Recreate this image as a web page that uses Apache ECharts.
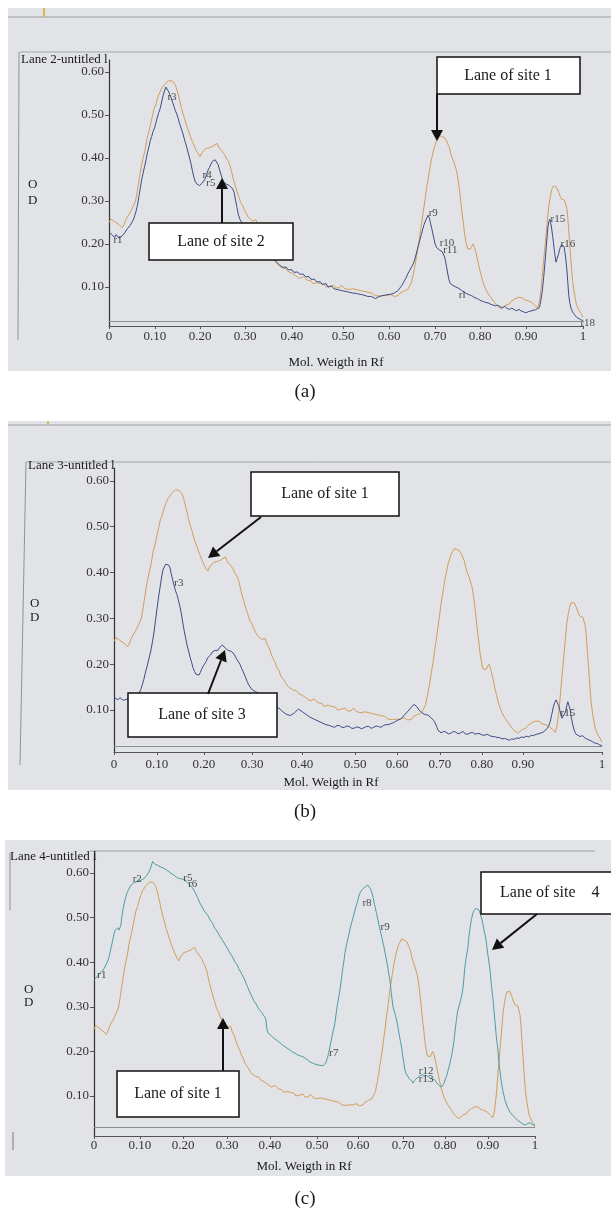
<!DOCTYPE html>
<html>
<head>
<meta charset="utf-8">
<script src="https://cdn.jsdelivr.net/npm/echarts@6/dist/echarts.min.js"></script>
<style>html,body{margin:0;padding:0;background:#fff}#c{width:611px;height:1210px}</style>
</head>
<body>
<div id="c"></div>
<script>
// ---------------- data ----------------
// Lane of site 1 (orange, drawn in all three panels) : [Rf, OD]
const site1 = [[0.000,0.250],[0.004,0.258],[0.008,0.262],[0.012,0.252],[0.016,0.256],[0.020,0.246],[0.024,0.243],[0.028,0.238],[0.032,0.246],[0.036,0.258],[0.040,0.262],[0.044,0.272],[0.048,0.268],[0.052,0.290],[0.056,0.300],[0.060,0.325],[0.065,0.360],[0.069,0.385],[0.072,0.400],[0.076,0.418],[0.080,0.445],[0.084,0.460],[0.088,0.480],[0.092,0.500],[0.095,0.515],[0.099,0.525],[0.102,0.538],[0.106,0.550],[0.110,0.560],[0.114,0.566],[0.118,0.572],[0.122,0.576],[0.126,0.580],[0.130,0.578],[0.134,0.579],[0.137,0.575],[0.140,0.570],[0.143,0.560],[0.146,0.548],[0.150,0.530],[0.153,0.515],[0.157,0.500],[0.160,0.490],[0.164,0.474],[0.168,0.462],[0.172,0.450],[0.176,0.438],[0.180,0.428],[0.184,0.418],[0.188,0.410],[0.192,0.403],[0.196,0.412],[0.200,0.414],[0.204,0.422],[0.208,0.418],[0.212,0.424],[0.216,0.420],[0.220,0.428],[0.224,0.430],[0.228,0.434],[0.232,0.424],[0.236,0.426],[0.240,0.414],[0.244,0.408],[0.248,0.398],[0.252,0.392],[0.256,0.380],[0.259,0.366],[0.262,0.352],[0.266,0.338],[0.270,0.322],[0.274,0.310],[0.278,0.296],[0.282,0.290],[0.286,0.278],[0.290,0.276],[0.294,0.262],[0.298,0.266],[0.302,0.254],[0.306,0.250],[0.310,0.256],[0.314,0.242],[0.318,0.236],[0.322,0.222],[0.326,0.212],[0.330,0.204],[0.334,0.192],[0.338,0.186],[0.342,0.174],[0.346,0.168],[0.350,0.162],[0.354,0.155],[0.358,0.150],[0.362,0.152],[0.366,0.144],[0.370,0.140],[0.374,0.142],[0.378,0.136],[0.382,0.138],[0.386,0.132],[0.390,0.130],[0.394,0.126],[0.398,0.128],[0.402,0.120],[0.406,0.118],[0.410,0.124],[0.414,0.120],[0.418,0.116],[0.422,0.112],[0.426,0.114],[0.430,0.108],[0.434,0.106],[0.438,0.110],[0.442,0.114],[0.446,0.108],[0.450,0.104],[0.454,0.106],[0.458,0.100],[0.462,0.098],[0.466,0.102],[0.470,0.100],[0.474,0.104],[0.478,0.098],[0.482,0.094],[0.486,0.098],[0.490,0.104],[0.494,0.100],[0.498,0.096],[0.502,0.100],[0.506,0.094],[0.510,0.098],[0.514,0.096],[0.518,0.100],[0.522,0.094],[0.526,0.090],[0.530,0.092],[0.534,0.088],[0.538,0.090],[0.542,0.086],[0.546,0.088],[0.550,0.084],[0.554,0.086],[0.558,0.082],[0.562,0.080],[0.566,0.083],[0.570,0.079],[0.574,0.082],[0.578,0.080],[0.582,0.077],[0.586,0.080],[0.590,0.078],[0.594,0.083],[0.598,0.080],[0.602,0.078],[0.606,0.082],[0.610,0.080],[0.614,0.086],[0.618,0.084],[0.622,0.090],[0.626,0.088],[0.630,0.094],[0.634,0.098],[0.638,0.110],[0.642,0.130],[0.646,0.152],[0.650,0.180],[0.654,0.205],[0.657,0.230],[0.660,0.250],[0.663,0.275],[0.667,0.305],[0.670,0.330],[0.673,0.350],[0.676,0.370],[0.679,0.390],[0.682,0.405],[0.685,0.420],[0.688,0.430],[0.691,0.440],[0.694,0.445],[0.697,0.452],[0.700,0.455],[0.703,0.450],[0.706,0.452],[0.709,0.446],[0.712,0.440],[0.715,0.432],[0.718,0.425],[0.721,0.410],[0.724,0.400],[0.727,0.392],[0.730,0.390],[0.733,0.372],[0.735,0.360],[0.738,0.338],[0.740,0.320],[0.743,0.290],[0.745,0.270],[0.748,0.245],[0.750,0.225],[0.753,0.205],[0.756,0.190],[0.759,0.186],[0.762,0.188],[0.765,0.194],[0.768,0.200],[0.771,0.192],[0.774,0.180],[0.777,0.166],[0.780,0.150],[0.784,0.132],[0.788,0.115],[0.792,0.102],[0.796,0.092],[0.800,0.084],[0.804,0.078],[0.808,0.072],[0.812,0.066],[0.816,0.060],[0.820,0.055],[0.824,0.052],[0.828,0.049],[0.832,0.053],[0.836,0.057],[0.840,0.061],[0.844,0.060],[0.848,0.066],[0.852,0.068],[0.856,0.072],[0.860,0.070],[0.864,0.076],[0.868,0.072],[0.872,0.075],[0.876,0.070],[0.880,0.074],[0.884,0.068],[0.888,0.070],[0.892,0.064],[0.896,0.060],[0.900,0.056],[0.904,0.051],[0.908,0.066],[0.912,0.100],[0.916,0.150],[0.919,0.185],[0.922,0.220],[0.925,0.256],[0.928,0.290],[0.931,0.310],[0.934,0.326],[0.937,0.334],[0.940,0.337],[0.943,0.334],[0.946,0.330],[0.949,0.320],[0.952,0.310],[0.955,0.304],[0.958,0.300],[0.961,0.302],[0.964,0.298],[0.966,0.282],[0.968,0.260],[0.970,0.230],[0.972,0.200],[0.974,0.170],[0.976,0.140],[0.978,0.115],[0.981,0.090],[0.984,0.072],[0.986,0.060],[0.989,0.052],[0.992,0.045],[0.996,0.038],[1.000,0.030]];

// Lane of site 2 (panel a, blue)
const site2 = [[0.000,0.228],[0.004,0.224],[0.006,0.222],[0.009,0.218],[0.012,0.215],[0.015,0.222],[0.018,0.220],[0.021,0.214],[0.024,0.212],[0.027,0.218],[0.030,0.222],[0.033,0.226],[0.036,0.228],[0.039,0.236],[0.042,0.240],[0.045,0.244],[0.048,0.250],[0.051,0.256],[0.054,0.265],[0.057,0.276],[0.060,0.290],[0.063,0.310],[0.066,0.330],[0.069,0.350],[0.072,0.365],[0.075,0.380],[0.078,0.395],[0.081,0.412],[0.084,0.425],[0.087,0.440],[0.090,0.450],[0.093,0.462],[0.096,0.470],[0.099,0.482],[0.102,0.495],[0.105,0.506],[0.108,0.515],[0.111,0.530],[0.114,0.545],[0.117,0.556],[0.120,0.565],[0.122,0.566],[0.124,0.562],[0.126,0.554],[0.128,0.548],[0.131,0.540],[0.134,0.530],[0.137,0.520],[0.140,0.510],[0.143,0.502],[0.146,0.492],[0.149,0.480],[0.152,0.470],[0.155,0.460],[0.158,0.448],[0.161,0.436],[0.164,0.425],[0.167,0.412],[0.170,0.400],[0.173,0.386],[0.176,0.370],[0.179,0.356],[0.182,0.345],[0.185,0.340],[0.188,0.342],[0.191,0.336],[0.194,0.338],[0.197,0.342],[0.200,0.345],[0.203,0.352],[0.206,0.362],[0.209,0.372],[0.212,0.378],[0.215,0.386],[0.218,0.392],[0.221,0.395],[0.224,0.396],[0.227,0.392],[0.230,0.385],[0.233,0.374],[0.236,0.362],[0.239,0.352],[0.242,0.345],[0.246,0.340],[0.250,0.338],[0.254,0.336],[0.258,0.332],[0.261,0.328],[0.264,0.320],[0.267,0.302],[0.270,0.285],[0.273,0.268],[0.276,0.258],[0.279,0.252],[0.282,0.248],[0.286,0.244],[0.290,0.240],[0.294,0.236],[0.298,0.232],[0.302,0.228],[0.306,0.222],[0.310,0.216],[0.314,0.210],[0.318,0.202],[0.322,0.196],[0.326,0.192],[0.330,0.185],[0.334,0.182],[0.338,0.175],[0.342,0.170],[0.346,0.165],[0.350,0.162],[0.354,0.158],[0.358,0.153],[0.362,0.150],[0.366,0.146],[0.370,0.143],[0.374,0.146],[0.378,0.140],[0.382,0.138],[0.386,0.140],[0.390,0.134],[0.394,0.132],[0.398,0.135],[0.402,0.130],[0.406,0.128],[0.410,0.130],[0.414,0.124],[0.418,0.122],[0.422,0.124],[0.426,0.118],[0.430,0.116],[0.434,0.118],[0.438,0.112],[0.442,0.110],[0.446,0.112],[0.450,0.106],[0.454,0.104],[0.458,0.108],[0.462,0.100],[0.466,0.098],[0.470,0.102],[0.474,0.096],[0.478,0.098],[0.482,0.094],[0.486,0.096],[0.490,0.092],[0.494,0.094],[0.498,0.090],[0.502,0.092],[0.506,0.088],[0.510,0.090],[0.514,0.086],[0.518,0.088],[0.522,0.085],[0.526,0.087],[0.530,0.083],[0.534,0.085],[0.538,0.081],[0.542,0.080],[0.546,0.078],[0.550,0.076],[0.554,0.078],[0.558,0.074],[0.562,0.073],[0.566,0.076],[0.570,0.078],[0.574,0.076],[0.578,0.080],[0.582,0.079],[0.586,0.082],[0.590,0.080],[0.594,0.083],[0.598,0.084],[0.602,0.086],[0.606,0.088],[0.610,0.092],[0.614,0.098],[0.618,0.104],[0.622,0.112],[0.626,0.120],[0.630,0.130],[0.634,0.138],[0.638,0.146],[0.642,0.154],[0.646,0.168],[0.650,0.185],[0.653,0.198],[0.656,0.210],[0.659,0.222],[0.662,0.235],[0.665,0.246],[0.668,0.255],[0.671,0.262],[0.673,0.267],[0.676,0.260],[0.678,0.250],[0.681,0.236],[0.683,0.225],[0.686,0.210],[0.688,0.200],[0.691,0.192],[0.694,0.188],[0.697,0.186],[0.700,0.185],[0.703,0.182],[0.706,0.180],[0.708,0.170],[0.710,0.160],[0.712,0.148],[0.714,0.135],[0.717,0.118],[0.720,0.108],[0.724,0.104],[0.728,0.102],[0.732,0.100],[0.736,0.098],[0.740,0.094],[0.744,0.092],[0.748,0.090],[0.752,0.086],[0.756,0.087],[0.760,0.082],[0.765,0.080],[0.770,0.076],[0.775,0.074],[0.780,0.071],[0.785,0.068],[0.790,0.066],[0.795,0.064],[0.800,0.063],[0.805,0.060],[0.810,0.058],[0.815,0.056],[0.820,0.058],[0.825,0.054],[0.830,0.052],[0.835,0.055],[0.840,0.050],[0.845,0.048],[0.850,0.051],[0.855,0.047],[0.860,0.045],[0.865,0.048],[0.870,0.044],[0.875,0.042],[0.880,0.040],[0.885,0.043],[0.890,0.044],[0.895,0.046],[0.900,0.047],[0.904,0.050],[0.908,0.052],[0.911,0.068],[0.914,0.090],[0.917,0.122],[0.920,0.160],[0.923,0.200],[0.926,0.240],[0.928,0.252],[0.930,0.258],[0.932,0.248],[0.934,0.235],[0.936,0.218],[0.938,0.200],[0.940,0.180],[0.943,0.158],[0.945,0.165],[0.948,0.175],[0.950,0.184],[0.952,0.192],[0.955,0.198],[0.958,0.202],[0.960,0.194],[0.962,0.180],[0.964,0.162],[0.966,0.140],[0.968,0.110],[0.970,0.080],[0.972,0.064],[0.975,0.050],[0.978,0.042],[0.982,0.036],[0.986,0.030],[0.990,0.026],[0.995,0.024],[1.000,0.022]];

// Lane of site 3 (panel b, blue)
const site3 = [[0.000,0.128],[0.004,0.125],[0.008,0.122],[0.012,0.127],[0.015,0.126],[0.019,0.121],[0.023,0.120],[0.027,0.124],[0.030,0.127],[0.034,0.123],[0.038,0.122],[0.042,0.127],[0.045,0.130],[0.049,0.133],[0.052,0.138],[0.055,0.145],[0.058,0.155],[0.061,0.166],[0.064,0.180],[0.067,0.192],[0.070,0.205],[0.073,0.218],[0.076,0.232],[0.079,0.250],[0.082,0.270],[0.085,0.295],[0.088,0.320],[0.091,0.344],[0.094,0.365],[0.097,0.386],[0.100,0.405],[0.103,0.412],[0.106,0.418],[0.108,0.421],[0.110,0.420],[0.112,0.416],[0.115,0.410],[0.117,0.398],[0.120,0.385],[0.123,0.372],[0.126,0.360],[0.129,0.352],[0.132,0.340],[0.135,0.326],[0.138,0.310],[0.141,0.290],[0.144,0.272],[0.147,0.256],[0.150,0.240],[0.153,0.228],[0.156,0.215],[0.159,0.204],[0.162,0.192],[0.165,0.184],[0.168,0.178],[0.171,0.174],[0.174,0.176],[0.177,0.182],[0.180,0.190],[0.183,0.196],[0.186,0.200],[0.189,0.206],[0.192,0.214],[0.195,0.218],[0.198,0.220],[0.201,0.226],[0.204,0.224],[0.207,0.230],[0.210,0.232],[0.213,0.230],[0.216,0.236],[0.219,0.238],[0.222,0.242],[0.225,0.240],[0.228,0.235],[0.231,0.232],[0.234,0.230],[0.237,0.232],[0.240,0.228],[0.243,0.226],[0.246,0.222],[0.249,0.216],[0.252,0.210],[0.255,0.206],[0.258,0.200],[0.261,0.192],[0.264,0.185],[0.267,0.178],[0.270,0.170],[0.273,0.162],[0.276,0.155],[0.279,0.150],[0.282,0.145],[0.286,0.142],[0.290,0.140],[0.294,0.142],[0.298,0.136],[0.302,0.132],[0.306,0.128],[0.310,0.124],[0.314,0.120],[0.318,0.116],[0.322,0.112],[0.326,0.110],[0.330,0.106],[0.334,0.108],[0.338,0.104],[0.342,0.100],[0.346,0.096],[0.350,0.094],[0.354,0.090],[0.358,0.086],[0.362,0.088],[0.366,0.090],[0.370,0.094],[0.374,0.098],[0.378,0.102],[0.382,0.098],[0.386,0.096],[0.390,0.092],[0.394,0.090],[0.398,0.086],[0.402,0.084],[0.406,0.086],[0.410,0.080],[0.414,0.078],[0.418,0.076],[0.422,0.078],[0.426,0.072],[0.430,0.070],[0.434,0.068],[0.438,0.070],[0.442,0.066],[0.447,0.064],[0.452,0.062],[0.457,0.066],[0.462,0.066],[0.467,0.062],[0.472,0.062],[0.477,0.065],[0.482,0.064],[0.487,0.060],[0.492,0.060],[0.497,0.063],[0.502,0.062],[0.507,0.059],[0.512,0.061],[0.517,0.064],[0.522,0.064],[0.527,0.060],[0.532,0.062],[0.537,0.065],[0.542,0.064],[0.547,0.062],[0.552,0.066],[0.557,0.068],[0.562,0.068],[0.567,0.070],[0.572,0.072],[0.577,0.075],[0.582,0.078],[0.587,0.080],[0.592,0.085],[0.596,0.090],[0.600,0.094],[0.603,0.098],[0.606,0.102],[0.609,0.106],[0.612,0.110],[0.615,0.112],[0.617,0.113],[0.620,0.108],[0.622,0.104],[0.625,0.100],[0.628,0.096],[0.631,0.094],[0.634,0.092],[0.637,0.090],[0.640,0.088],[0.643,0.089],[0.646,0.086],[0.649,0.084],[0.652,0.080],[0.655,0.077],[0.658,0.072],[0.661,0.064],[0.664,0.056],[0.667,0.052],[0.670,0.050],[0.675,0.053],[0.680,0.052],[0.685,0.048],[0.690,0.049],[0.695,0.053],[0.700,0.052],[0.705,0.048],[0.710,0.050],[0.715,0.053],[0.720,0.048],[0.725,0.047],[0.730,0.050],[0.735,0.051],[0.740,0.047],[0.745,0.049],[0.750,0.048],[0.755,0.045],[0.760,0.045],[0.765,0.047],[0.770,0.044],[0.775,0.042],[0.780,0.042],[0.785,0.040],[0.790,0.040],[0.795,0.037],[0.800,0.038],[0.805,0.036],[0.810,0.034],[0.815,0.037],[0.820,0.036],[0.825,0.039],[0.830,0.038],[0.835,0.041],[0.840,0.040],[0.845,0.043],[0.850,0.041],[0.855,0.045],[0.860,0.044],[0.865,0.047],[0.870,0.048],[0.875,0.050],[0.880,0.052],[0.884,0.055],[0.888,0.060],[0.891,0.066],[0.894,0.075],[0.897,0.090],[0.900,0.105],[0.903,0.116],[0.906,0.122],[0.909,0.118],[0.911,0.110],[0.914,0.098],[0.916,0.088],[0.918,0.082],[0.920,0.078],[0.922,0.084],[0.925,0.095],[0.928,0.110],[0.930,0.118],[0.932,0.114],[0.935,0.100],[0.937,0.084],[0.940,0.068],[0.943,0.056],[0.946,0.048],[0.950,0.045],[0.955,0.042],[0.960,0.044],[0.965,0.039],[0.970,0.036],[0.975,0.034],[0.980,0.031],[0.985,0.028],[0.990,0.027],[0.995,0.024],[1.000,0.022]];

// Lane of site 4 (panel c, teal)
const site4 = [[0.000,0.360],[0.004,0.364],[0.007,0.367],[0.010,0.372],[0.014,0.376],[0.017,0.378],[0.020,0.382],[0.023,0.386],[0.025,0.390],[0.028,0.396],[0.032,0.405],[0.035,0.415],[0.037,0.425],[0.039,0.434],[0.041,0.443],[0.043,0.452],[0.045,0.462],[0.048,0.472],[0.051,0.476],[0.054,0.477],[0.057,0.472],[0.059,0.470],[0.061,0.484],[0.063,0.501],[0.066,0.520],[0.070,0.539],[0.073,0.550],[0.076,0.558],[0.079,0.564],[0.082,0.569],[0.085,0.574],[0.088,0.578],[0.092,0.579],[0.096,0.580],[0.100,0.582],[0.104,0.580],[0.107,0.584],[0.110,0.585],[0.113,0.587],[0.116,0.589],[0.119,0.594],[0.122,0.598],[0.125,0.603],[0.127,0.607],[0.129,0.614],[0.131,0.620],[0.133,0.626],[0.134,0.627],[0.136,0.624],[0.138,0.620],[0.140,0.621],[0.143,0.618],[0.146,0.616],[0.150,0.614],[0.154,0.612],[0.158,0.611],[0.162,0.608],[0.166,0.606],[0.170,0.603],[0.174,0.600],[0.178,0.597],[0.182,0.595],[0.186,0.591],[0.190,0.589],[0.194,0.590],[0.198,0.587],[0.202,0.586],[0.206,0.585],[0.209,0.581],[0.212,0.578],[0.215,0.576],[0.218,0.573],[0.221,0.570],[0.224,0.566],[0.227,0.562],[0.229,0.557],[0.232,0.551],[0.235,0.545],[0.238,0.538],[0.240,0.533],[0.245,0.524],[0.250,0.515],[0.256,0.508],[0.260,0.502],[0.263,0.495],[0.266,0.492],[0.269,0.487],[0.272,0.480],[0.275,0.475],[0.280,0.468],[0.283,0.464],[0.286,0.457],[0.291,0.450],[0.294,0.446],[0.297,0.440],[0.302,0.432],[0.305,0.428],[0.308,0.421],[0.311,0.418],[0.314,0.412],[0.317,0.405],[0.320,0.400],[0.325,0.394],[0.328,0.386],[0.331,0.383],[0.336,0.372],[0.339,0.368],[0.342,0.360],[0.345,0.352],[0.348,0.346],[0.351,0.338],[0.354,0.331],[0.357,0.326],[0.359,0.322],[0.362,0.314],[0.365,0.310],[0.368,0.306],[0.370,0.302],[0.373,0.296],[0.376,0.293],[0.380,0.288],[0.383,0.283],[0.385,0.280],[0.388,0.276],[0.390,0.270],[0.392,0.250],[0.395,0.241],[0.398,0.240],[0.402,0.235],[0.406,0.232],[0.410,0.228],[0.413,0.227],[0.416,0.224],[0.419,0.222],[0.422,0.219],[0.425,0.218],[0.428,0.214],[0.431,0.213],[0.434,0.210],[0.437,0.207],[0.440,0.206],[0.443,0.204],[0.446,0.202],[0.449,0.200],[0.451,0.198],[0.454,0.197],[0.456,0.196],[0.459,0.193],[0.462,0.192],[0.465,0.191],[0.468,0.190],[0.471,0.186],[0.474,0.188],[0.477,0.185],[0.480,0.184],[0.483,0.181],[0.485,0.180],[0.488,0.177],[0.490,0.176],[0.493,0.175],[0.495,0.174],[0.498,0.172],[0.500,0.172],[0.503,0.170],[0.506,0.170],[0.509,0.168],[0.512,0.169],[0.516,0.167],[0.520,0.168],[0.523,0.170],[0.526,0.175],[0.529,0.184],[0.532,0.195],[0.535,0.210],[0.538,0.225],[0.542,0.244],[0.546,0.262],[0.549,0.284],[0.552,0.305],[0.555,0.322],[0.558,0.340],[0.561,0.362],[0.564,0.385],[0.567,0.405],[0.569,0.421],[0.572,0.436],[0.575,0.450],[0.578,0.462],[0.580,0.472],[0.583,0.484],[0.586,0.495],[0.589,0.506],[0.592,0.517],[0.595,0.528],[0.598,0.538],[0.600,0.546],[0.603,0.555],[0.606,0.560],[0.610,0.565],[0.613,0.568],[0.616,0.570],[0.619,0.572],[0.621,0.573],[0.624,0.570],[0.626,0.566],[0.628,0.562],[0.630,0.557],[0.633,0.545],[0.636,0.530],[0.640,0.512],[0.644,0.495],[0.646,0.484],[0.649,0.472],[0.652,0.458],[0.655,0.445],[0.658,0.432],[0.660,0.421],[0.663,0.406],[0.666,0.390],[0.668,0.376],[0.671,0.360],[0.674,0.332],[0.678,0.300],[0.681,0.290],[0.684,0.280],[0.687,0.266],[0.690,0.250],[0.692,0.238],[0.695,0.222],[0.698,0.206],[0.700,0.190],[0.703,0.172],[0.705,0.158],[0.708,0.150],[0.711,0.145],[0.714,0.140],[0.717,0.138],[0.720,0.134],[0.723,0.129],[0.726,0.134],[0.729,0.138],[0.732,0.140],[0.735,0.143],[0.738,0.145],[0.741,0.146],[0.744,0.148],[0.746,0.147],[0.749,0.145],[0.752,0.144],[0.755,0.146],[0.757,0.143],[0.760,0.141],[0.763,0.142],[0.766,0.139],[0.769,0.140],[0.772,0.137],[0.774,0.134],[0.776,0.131],[0.778,0.129],[0.781,0.126],[0.783,0.124],[0.785,0.121],[0.787,0.120],[0.790,0.122],[0.792,0.126],[0.794,0.130],[0.796,0.136],[0.800,0.146],[0.803,0.158],[0.806,0.168],[0.808,0.178],[0.810,0.186],[0.812,0.196],[0.814,0.208],[0.816,0.222],[0.819,0.248],[0.822,0.272],[0.825,0.293],[0.828,0.302],[0.830,0.310],[0.834,0.326],[0.837,0.344],[0.839,0.366],[0.841,0.390],[0.844,0.410],[0.848,0.434],[0.850,0.456],[0.853,0.479],[0.856,0.496],[0.859,0.510],[0.862,0.516],[0.866,0.521],[0.869,0.520],[0.873,0.517],[0.876,0.508],[0.880,0.495],[0.884,0.474],[0.889,0.450],[0.893,0.418],[0.898,0.383],[0.901,0.350],[0.905,0.315],[0.907,0.292],[0.909,0.270],[0.912,0.236],[0.916,0.203],[0.919,0.168],[0.923,0.136],[0.927,0.112],[0.932,0.091],[0.937,0.076],[0.943,0.064],[0.949,0.057],[0.955,0.051],[0.960,0.046],[0.966,0.042],[0.971,0.038],[0.977,0.035],[0.983,0.038],[0.989,0.040],[0.994,0.036],[1.000,0.035]];

// band marker labels: [Rf, OD, text]
const bandsA = [[0.019,0.209,'r1'],[0.133,0.542,'r3'],[0.207,0.360,'r4'],[0.215,0.342,'r5'],[0.684,0.272,'r9'],[0.713,0.202,'r10'],[0.720,0.186,'r11'],[0.745,0.082,'rl'],[0.947,0.258,'r15'],[0.968,0.200,'r16'],[1.010,0.016,'r18']];
const bandsB = [[0.133,0.377,'r3'],[0.930,0.093,'r15']];
const bandsC = [[0.018,0.371,'r1'],[0.098,0.587,'r2'],[0.213,0.589,'r5'],[0.224,0.575,'r6'],[0.544,0.196,'r7'],[0.619,0.533,'r8'],[0.660,0.479,'r9'],[0.753,0.156,'r12'],[0.753,0.139,'r13']];

// tick labels
const yTickValues = [0.1,0.2,0.3,0.4,0.5,0.6];
const xTickLabels = ['0','0.10','0.20','0.30','0.40','0.50','0.60','0.70','0.80','0.90','1'];
const xTickPosA = [0,0.097,0.192,0.287,0.386,0.494,0.591,0.688,0.783,0.880,1];
const xTickPosB = [0,0.088,0.184,0.283,0.385,0.494,0.580,0.668,0.754,0.838,1];
const xTickPosC = [0,0.104,0.202,0.302,0.399,0.506,0.599,0.701,0.796,0.893,1];
const baselineOD = [0.016,0.0236,0.030];

// ---------------- layout ----------------
const SERIF = '"Liberation Serif","DejaVu Serif",serif';
const C_ORANGE = '#d39d5b', C_BLUE = '#3c4c85', C_TEAL = '#4e9ca5';
const panels = [
  {grid:{left:109,top:60,width:474,height:266}, ymin:0.0093, ymax:0.628, xpos:xTickPosA, lm:4, lane:site2, col:C_BLUE, bands:bandsA},
  {grid:{left:114,top:468,width:488,height:284}, ymin:0.0083, ymax:0.628, xpos:xTickPosB, lm:6, lane:site3, col:C_BLUE, bands:bandsB},
  {grid:{left:94,top:853,width:441,height:283}, ymin:0.0103, ymax:0.645, xpos:xTickPosC, lm:3, lane:site4, col:C_TEAL, bands:bandsC}
];

const grids=[], xAxes=[], yAxes=[], series=[];
panels.forEach((p,i)=>{
  grids.push(p.grid);
  xAxes.push({type:'value', gridIndex:i, min:0, max:1,
    axisLine:{lineStyle:{color:'#555',width:1}},
    axisTick:{show:true,length:3,customValues:p.xpos,lineStyle:{color:'#555'}},
    splitLine:{show:false},
    axisLabel:{customValues:p.xpos, margin:p.lm, color:'#333', fontFamily:SERIF, fontSize:13,
      formatter:(v)=>{const k=p.xpos.findIndex(q=>Math.abs(q-v)<1e-6);return k>=0?xTickLabels[k]:'';}}
  });
  yAxes.push({type:'value', gridIndex:i, min:p.ymin, max:p.ymax,
    axisLine:{show:true,lineStyle:{color:'#333',width:1.2}},
    axisTick:{show:true,length:4,customValues:yTickValues,lineStyle:{color:'#555'}},
    splitLine:{show:false},
    axisLabel:{customValues:yTickValues, margin:5, color:'#333', fontFamily:SERIF, fontSize:13, formatter:v=>v.toFixed(2)}
  });
  series.push({type:'line', xAxisIndex:i, yAxisIndex:i, data:site1, symbol:'none', lineStyle:{color:C_ORANGE,width:1}, z:2,
    markLine:{silent:true,symbol:'none',label:{show:false},lineStyle:{color:'#8a8d92',width:1,type:'solid'},data:[{yAxis:baselineOD[i]}]}});
  series.push({type:'line', xAxisIndex:i, yAxisIndex:i, data:p.lane, symbol:'none', lineStyle:{color:p.col,width:1}, z:3});
  series.push({type:'scatter', xAxisIndex:i, yAxisIndex:i, data:p.bands, symbolSize:0, clip:false, z:4,
    label:{show:true, position:[0,0], align:'center', verticalAlign:'middle', formatter:q=>q.data[2], color:'#222', fontFamily:SERIF, fontSize:11}});
});

// ---------------- decorations ----------------
function txt(x,y,s,size,align){return {type:'text',x:x,y:y,z:80,style:{text:s,font:size+'px '+SERIF,fill:'#1a1a1a',textAlign:align||'center',textVerticalAlign:'middle',align:align||'center',verticalAlign:'middle'}};}
function ln(x1,y1,x2,y2,c,w){return {type:'line',z:1,shape:{x1,y1,x2,y2},style:{stroke:c||'#8c8f94',lineWidth:w||1}};}
function box(x,y,w,h){return {type:'rect',z:60,shape:{x,y,width:w,height:h},style:{fill:'#fff',stroke:'#111',lineWidth:1.5}};}
function arrow(x1,y1,x2,y2){const dx=x2-x1,dy=y2-y1,L=Math.hypot(dx,dy),ux=dx/L,uy=dy/L,hl=11,hw=6,bx=x2-ux*hl,by=y2-uy*hl;
  return [{type:'line',z:60,shape:{x1,y1,x2:bx,y2:by},style:{stroke:'#111',lineWidth:2}},
          {type:'polygon',z:60,shape:{points:[[x2,y2],[bx-uy*hw,by+ux*hw],[bx+uy*hw,by-ux*hw]]},style:{fill:'#111'}}];}

const graphic = [
  // panel backgrounds
  {type:'rect',z:-5,shape:{x:8,y:8,width:603,height:363},style:{fill:'#e1e3e6'}},
  {type:'rect',z:-5,shape:{x:8,y:421,width:603,height:369},style:{fill:'#e1e3e6'}},
  {type:'rect',z:-5,shape:{x:5,y:840,width:606,height:336},style:{fill:'#e1e3e6'}},
  // panel (a) frame lines
  ln(8,17,611,17,'#9a9da2'), ln(20,52,611,52,'#a3a6aa'), ln(19,52,18,340,'#8f9297'),
  ln(44,8,44,17,'#d8b84a',2),
  // panel (b) frame lines
  ln(8,425,611,425,'#9a9da2'), ln(26,462,611,462,'#a3a6aa'), ln(26,462,20,765,'#8f9297'),
  ln(48,421,48,425,'#d8b84a',2),
  // panel (c) frame lines
  ln(90,851,595,851,'#9a9da2'), ln(10,853,10,910,'#8f9297'), ln(13,1132,13,1150,'#9a9da2',1.5),
  // lane titles and axis texts
  txt(21,60,'Lane 2-untitled l',13,'left'), txt(28,185,'O',13,'left'), txt(28,201,'D',13,'left'),
  txt(336,363,'Mol. Weigth in Rf',13),
  txt(28,466,'Lane 3-untitled l',13,'left'), txt(30,604,'O',13,'left'), txt(30,618,'D',13,'left'),
  txt(331,783,'Mol. Weigth in Rf',13),
  txt(10,857,'Lane 4-untitled l',13,'left'), txt(24,990,'O',13,'left'), txt(24,1003,'D',13,'left'),
  txt(304,1167,'Mol. Weigth in Rf',13),
  // captions
  txt(305,392,'(a)',19), txt(305,812,'(b)',19), txt(305,1199,'(c)',19),
  // callouts (a)
  box(437,57,143,37), txt(508,76,'Lane of site 1',16), ...arrow(437,94,437,141),
  box(149,223,144,37), txt(221,242,'Lane of site 2',16), ...arrow(222,223,222,178),
  // callouts (b)
  box(251,472,148,44), txt(325,494,'Lane of site 1',16), ...arrow(261,517,208,558),
  box(128,693,149,44), txt(202,715,'Lane of site 3',16), ...arrow(208,694,225,650),
  // callouts (c)
  box(481,872,135,42), txt(500,893,'Lane of site    4',16,'left'), ...arrow(537,914,492,950),
  box(117,1071,122,46), txt(178,1094,'Lane of site 1',16), ...arrow(223,1071,223,1018)
];

const chart = echarts.init(document.getElementById('c'), null, {renderer:'canvas'});
chart.setOption({animation:false, backgroundColor:'#ffffff', grid:grids, xAxis:xAxes, yAxis:yAxes, series:series, graphic:graphic});
</script>
</body>
</html>
